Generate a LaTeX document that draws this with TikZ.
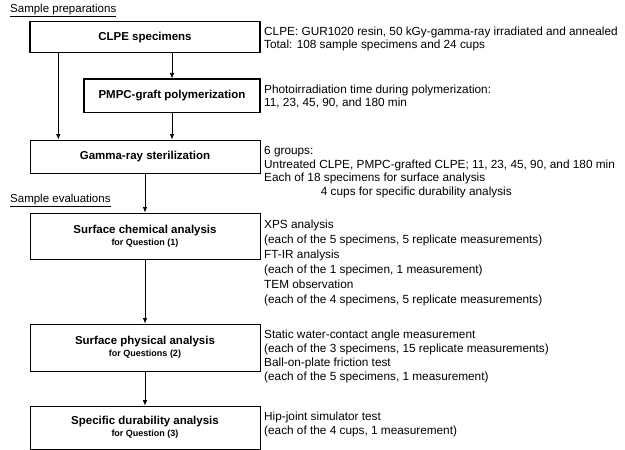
\documentclass[tikz,border=0pt]{standalone}
\usepackage{fontspec}
\setmainfont{Liberation Sans}
\usetikzlibrary{arrows.meta}
\begin{document}
\begin{tikzpicture}[x=1pt,y=-1pt,
  box/.style={draw, line width=0.9pt, minimum width=230pt, inner sep=0pt, align=center,
    font=\fontsize{11.5}{13}\selectfont\bfseries},
  thickbox/.style={box, line width=1.2pt},
  arr/.style={-{Latex[length=5.5pt,width=4.5pt]}, line width=0.7pt},
  txt/.style={anchor=base west, inner sep=0pt, font=\fontsize{11.8}{14}\selectfont},
  sec/.style={anchor=base west, inner sep=0pt, font=\fontsize{11.5}{14}\selectfont},
  subq/.style={font=\fontsize{9}{11}\selectfont\bfseries}
]
\useasboundingbox (0,0) rectangle (625,450);

% section labels
\node[sec] (secprep) at (10,12.5) {\underline{Sample preparations}};
\node[sec] (seceval) at (10,202.5) {\underline{Sample evaluations}};

% boxes
\node[thickbox, minimum height=31pt] (clpe) at (145,37.2) {CLPE specimens};
\node[thickbox, minimum width=176pt, minimum height=33.7pt] (pmpc) at (172,95.9) {PMPC-graft polymerization};
\node[box, minimum height=33pt] (gamma) at (145,156.5) {Gamma-ray sterilization};
\node[box, minimum height=46.5pt] (chem) at (145,236.2)
  {Surface chemical analysis\\[-1pt]{\fontsize{9}{11}\selectfont for Question (1)}};
\node[box, minimum height=47pt] (phys) at (145,347.5)
  {Surface physical analysis\\[-1pt]{\fontsize{9}{11}\selectfont for Questions (2)}};
\node[box, minimum height=43pt] (dur) at (145,427.6)
  {Specific durability analysis\\[-1pt]{\fontsize{9}{11}\selectfont for Question (3)}};

% connectors
\coordinate (lx) at (58.3,0);
\draw[arr] (clpe.south -| pmpc.north) -- (pmpc.north);
\draw[arr] (clpe.south -| lx) -- (gamma.north -| lx);
\draw[arr] (pmpc.south) -- (gamma.north -| pmpc.south);
\draw[arr] (gamma.south) -- (chem.north);
\draw[arr] (chem.south) -- (phys.north);
\draw[arr] (phys.south) -- (dur.north);

% right-hand descriptions
\node[txt] (t1a) at (264,35) {CLPE: GUR1020 resin, 50 kGy-gamma-ray irradiated and annealed};
\node[txt] (t1b) at (264,48.5) {Total: 108 sample specimens and 24 cups};

\node[txt] (t2a) at (264,93.3) {Photoirradiation time during polymerization:};
\node[txt] (t2b) at (264,106.7) {11, 23, 45, 90, and 180 min};

\node[txt] (t3a) at (264,154.7) {6 groups:};
\node[txt] (t3b) at (264,168.3) {Untreated CLPE, PMPC-grafted CLPE; 11, 23, 45, 90, and 180 min};
\node[txt] (t3c) at (264,181.7) {Each of 18 specimens for surface analysis};
\node[txt] (t3d) at (320.7,195.7) {4 cups for specific durability analysis};

\node[txt] (t4a) at (264,228) {XPS analysis};
\node[txt] (t4b) at (264,243) {(each of the 5 specimens, 5 replicate measurements)};
\node[txt] (t4c) at (264,258.3) {FT-IR analysis};
\node[txt] (t4d) at (264,273) {(each of the 1 specimen, 1 measurement)};
\node[txt] (t4e) at (264,288.3) {TEM observation};
\node[txt] (t4f) at (264,303) {(each of the 4 specimens, 5 replicate measurements)};

\node[txt] (t5a) at (264,338.3) {Static water-contact angle measurement};
\node[txt] (t5b) at (264,352.3) {(each of the 3 specimens, 15 replicate measurements)};
\node[txt] (t5c) at (264,366.7) {Ball-on-plate friction test};
\node[txt] (t5d) at (264,380.7) {(each of the 5 specimens, 1 measurement)};

\node[txt] (t6a) at (264,420) {Hip-joint simulator test};
\node[txt] (t6b) at (264,434) {(each of the 4 cups, 1 measurement)};
\end{tikzpicture}
\end{document}
